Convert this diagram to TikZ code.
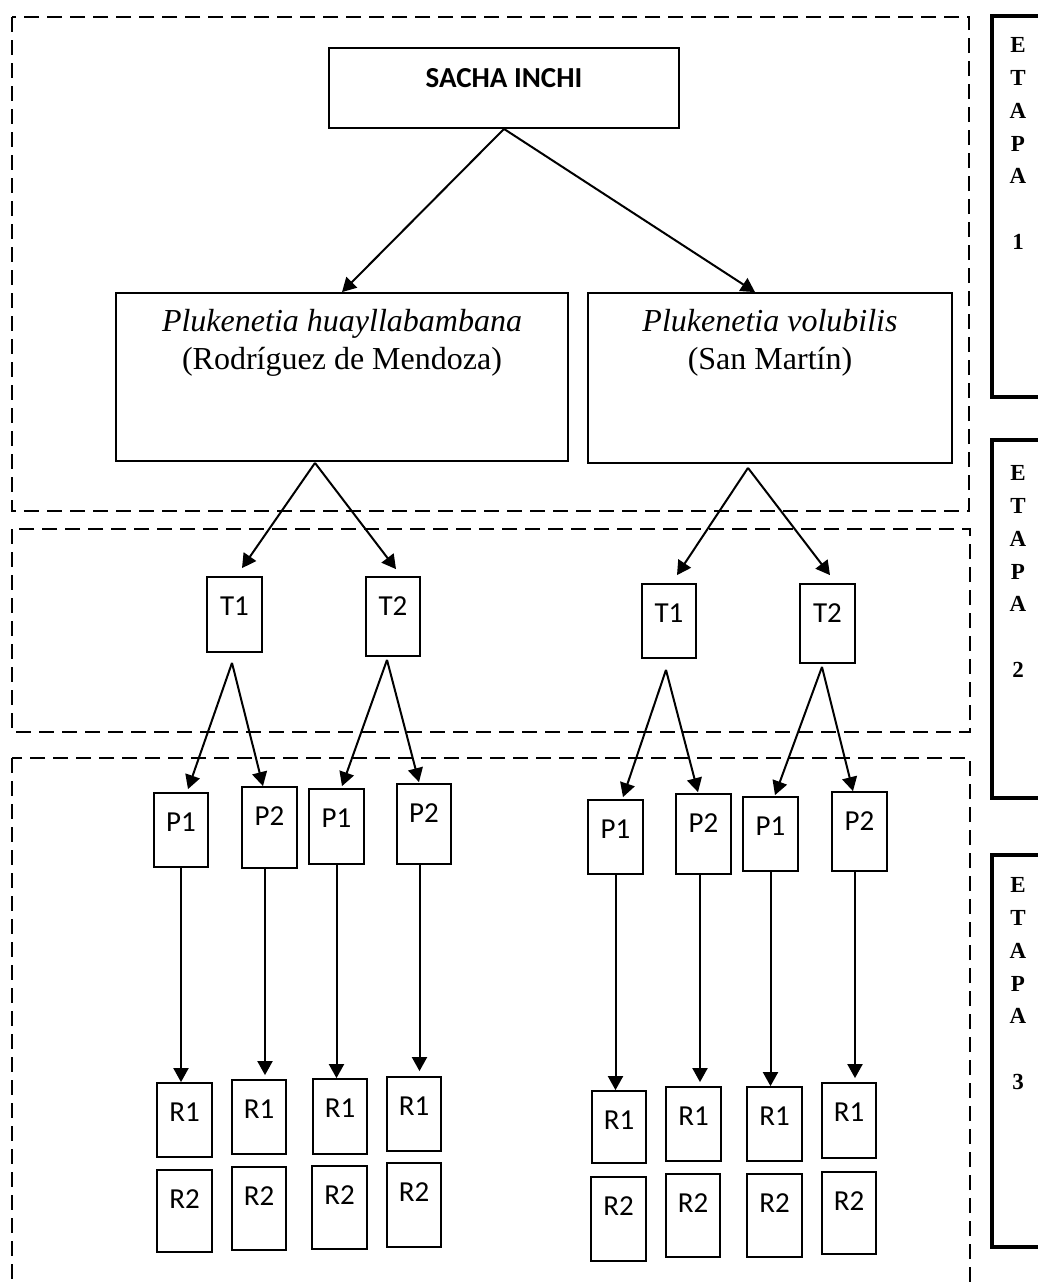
\documentclass[tikz,border=0pt]{standalone}
\usepackage{fontspec}
\setmainfont{Liberation Serif}
\newfontfamily\carl{Carlito}
\usetikzlibrary{arrows.meta,calc}
\begin{document}
\begin{tikzpicture}[x=0.5pt,y=-0.5pt,
  sz/.style 2 args={minimum width=#1*0.5pt,minimum height=#2*0.5pt},
  dbox/.style={draw,line width=1.2pt,dash pattern=on 7.5pt off 4pt},
  cbox/.style={draw,line width=0.9pt,inner sep=0pt},
  ebox/.style={draw,line width=1.7pt,inner sep=0pt},
  sml/.style={cbox,label={[font=\carl\fontsize{14.5}{17}\selectfont,anchor=center,yshift=-15pt]north:#1}},
  big/.style={cbox,label={[font=\fontsize{16}{19}\selectfont,align=center,anchor=center,yshift=-25.5pt]north:#1}},
  etapa/.style={ebox,label={[font=\bfseries\fontsize{11.5}{16.4}\selectfont,align=center,anchor=north,inner sep=0pt,xshift=-4.5pt,yshift=#1]north:E\\T\\A\\P\\A\\\mbox{}\\\etnum}},
  arr/.style={line width=1pt,-{Triangle[length=7pt,width=7.5pt]}},
]
\useasboundingbox (0,0) rectangle (1038,1282);
\clip (0,0) rectangle (1038,1282);

% dashed frames (stages)
\draw[dbox] (12,17) rectangle (969,511);
\draw[dbox] (12,529) rectangle (970,732);
\draw[dbox] (12,758) rectangle (970,1300);

% ETAPA boxes
\def\etnum{1}
\node[etapa=-11.5pt,sz={70}{381}] (E1) at (1027,206.5) {};
\def\etnum{2}
\node[etapa=-13.5pt,sz={70}{358}] (E2) at (1027,619) {};
\def\etnum{3}
\node[etapa=-12pt,sz={70}{392}] (E3) at (1027,1051) {};

% top level
\node[cbox,sz={350}{80},label={[font=\carl\bfseries\fontsize{14.5}{17}\selectfont,anchor=center,yshift=-15.5pt]north:SACHA INCHI}] (S) at (504,88) {};
\node[big={{\textit{Plukenetia huayllabambana}\\(Rodríguez de Mendoza)}},sz={452}{168}] (H) at (342,377) {};
\node[big={{\textit{Plukenetia volubilis}\\(San Martín)}},sz={364}{170}] (V) at (770,378) {};

% T boxes
\node[sml=T1,sz={55}{75}] (T1a) at (234.5,614.5) {};
\node[sml=T2,sz={54}{79}] (T2a) at (393,616.5) {};
\node[sml=T1,sz={54}{74}] (T1b) at (669,621) {};
\node[sml=T2,sz={55}{79}] (T2b) at (827.5,623.5) {};

% P boxes
\node[sml=P1,sz={54}{74}] (P1a) at (181,830) {};
\node[sml=P2,sz={55}{81}] (P2a) at (269.5,827.5) {};
\node[sml=P1,sz={55}{75}] (P1b) at (336.5,826.5) {};
\node[sml=P2,sz={54}{80}] (P2b) at (424,824) {};
\node[sml=P1,sz={55}{74}] (P1c) at (615.5,837) {};
\node[sml=P2,sz={55}{80}] (P2c) at (703.5,834) {};
\node[sml=P1,sz={55}{74}] (P1d) at (770.5,834) {};
\node[sml=P2,sz={55}{79}] (P2d) at (859.5,831.5) {};

% R boxes
\node[sml=R1,sz={55}{74}] (R1a) at (184.5,1120) {};
\node[sml=R1,sz={54}{74}] (R1b) at (259,1117) {};
\node[sml=R1,sz={54}{75}] (R1c) at (340,1116.5) {};
\node[sml=R1,sz={54}{74}] (R1d) at (414,1114) {};
\node[sml=R2,sz={55}{82}] (R2a) at (184.5,1211) {};
\node[sml=R2,sz={54}{83}] (R2b) at (259,1208.5) {};
\node[sml=R2,sz={55}{83}] (R2c) at (339.5,1207.5) {};
\node[sml=R2,sz={54}{84}] (R2d) at (414,1205) {};
\node[sml=R1,sz={54}{72}] (R1e) at (619,1127) {};
\node[sml=R1,sz={55}{74}] (R1f) at (693.5,1124) {};
\node[sml=R1,sz={55}{74}] (R1g) at (774.5,1124) {};
\node[sml=R1,sz={54}{75}] (R1h) at (849,1120.5) {};
\node[sml=R2,sz={55}{84}] (R2e) at (618.5,1219) {};
\node[sml=R2,sz={54}{83}] (R2f) at (693,1215.5) {};
\node[sml=R2,sz={55}{83}] (R2g) at (774.5,1215.5) {};
\node[sml=R2,sz={54}{82}] (R2h) at (849,1213) {};

% apex coordinates
\coordinate (hA) at ($(H.south)+(-27,1)$);
\coordinate (vA) at ($(V.south)+(-22,4)$);
\coordinate (t1aA) at ($(T1a.south)+(-2.5,10)$);
\coordinate (t2aA) at ($(T2a.south)+(-6,3)$);
\coordinate (t1bA) at ($(T1b.south)+(-3,11)$);
\coordinate (t2bA) at ($(T2b.south)+(-5.5,3)$);

% connectors
\draw[arr] (S.south) -- (H.north);
\draw[arr] (S.south) -- ($(V.north)+(-15,0)$);
\draw[arr] (hA) -- ($(T1a.north)+(7.5,-8)$);
\draw[arr] (hA) -- ($(T2a.north)+(3,-7)$);
\draw[arr] (vA) -- ($(T1b.north)+(8,-8)$);
\draw[arr] (vA) -- ($(T2b.north)+(2.5,-8)$);
\draw[arr] (t1aA) -- ($(P1a.north)+(7,-3)$);
\draw[arr] (t1aA) -- ($(P2a.north)+(-6.5,0)$);
\draw[arr] (t2aA) -- ($(P1b.north)+(5.5,-2)$);
\draw[arr] (t2aA) -- ($(P2b.north)+(-5,-1)$);
\draw[arr] (t1bA) -- ($(P1c.north)+(7.5,-2)$);
\draw[arr] (t1bA) -- ($(P2c.north)+(-5.5,-1)$);
\draw[arr] (t2bA) -- ($(P1d.north)+(4.5,-1)$);
\draw[arr] (t2bA) -- ($(P2d.north)+(-6.5,0)$);

\draw[arr] (P1a.south) -- (P1a.south |- R1a.north);
\draw[arr] ($(P2a.south)+(-4.5,0)$) -- ($(P2a.south |- R1b.north)+(-4.5,-4)$);
\draw[arr] (P1b.south) -- (P1b.south |- R1c.north);
\draw[arr] ($(P2b.south)+(-4.5,0)$) -- ($(P2b.south |- R1d.north)+(-4.5,-5)$);
\draw[arr] (P1c.south) -- (P1c.south |- R1e.north);
\draw[arr] ($(P2c.south)+(-3.5,0)$) -- ($(P2c.south |- R1f.north)+(-3.5,-4)$);
\draw[arr] (P1d.south) -- (P1d.south |- R1g.north);
\draw[arr] ($(P2d.south)+(-4.5,0)$) -- ($(P2d.south |- R1h.north)+(-4.5,-4)$);
\end{tikzpicture}
\end{document}
